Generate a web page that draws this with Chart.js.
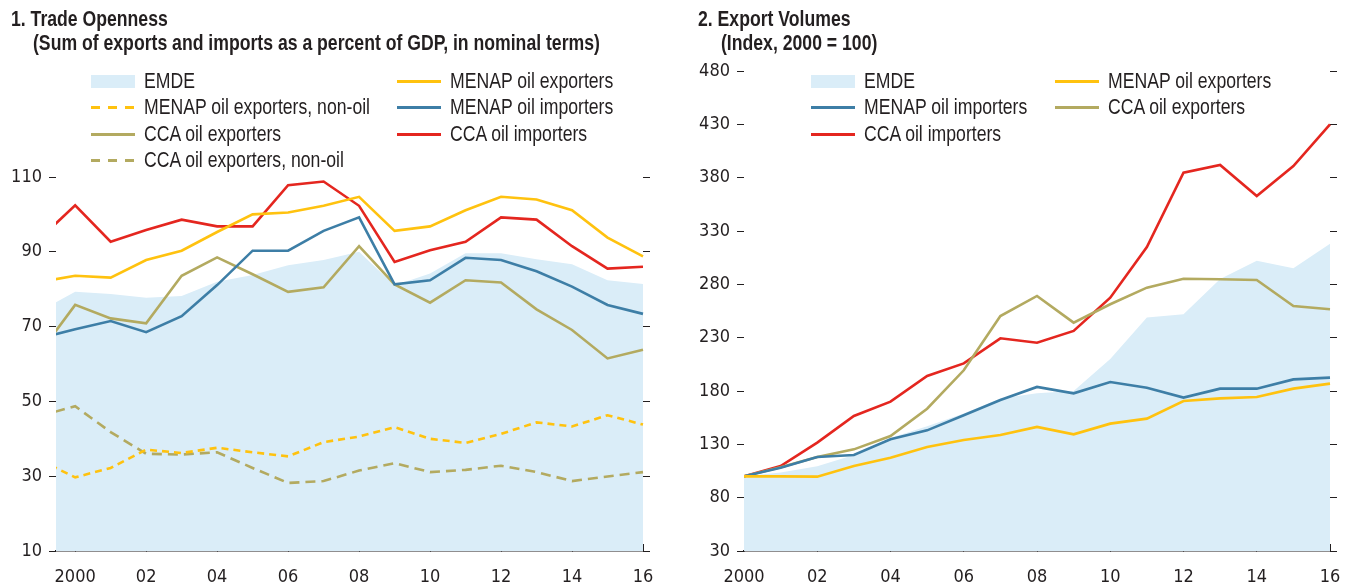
<!DOCTYPE html>
<html>
<head>
<meta charset="utf-8">
<script src="https://cdn.jsdelivr.net/npm/chart.js@4.4.1/dist/chart.umd.min.js"></script>
<style>
  html, body { margin: 0; padding: 0; background: #fff; }
  body { font-family: "Liberation Sans", Arial, sans-serif; color: #231f20; }
  #wrap { position: relative; width: 1354px; height: 586px; overflow: hidden; }
  .panel { position: absolute; top: 0; width: 677px; height: 586px; }
  .panel canvas { position: absolute; left: 0; top: 0; }
  /* narrow face: regular sans squeezed horizontally */
  .narrow { display: inline-block; transform: scaleX(0.82); transform-origin: 0 50%; white-space: nowrap; }
  .ttl { position: absolute; font-weight: bold; font-size: 21.5px; line-height: 24px; }
  .legend { position: absolute; display: grid; grid-auto-rows: 26.5px; font-size: 21.5px; }
  .legend .item { display: flex; align-items: center; white-space: nowrap; }
  .legend .sw { width: 44px; margin-right: 9px; flex: none; }
</style>
</head>
<body>
<div id="wrap">
  <div class="panel" id="p1" style="left:0">
    <canvas id="c1" width="677" height="586"></canvas>
    <div class="ttl narrow" style="left:11px;top:7px">1. Trade Openness</div>
    <div class="ttl narrow" style="left:33px;top:31px">(Sum of exports and imports as a percent of GDP, in nominal terms)</div>
    <div class="legend" id="lg1" style="left:91px;top:68px;grid-template-columns:306px 300px"></div>
  </div>
  <div class="panel" id="p2" style="left:677px">
    <canvas id="c2" width="677" height="586"></canvas>
    <div class="ttl narrow" style="left:21px;top:7px">2. Export Volumes</div>
    <div class="ttl narrow" style="left:44px;top:31px">(Index, 2000 = 100)</div>
    <div class="legend" id="lg2" style="left:134px;top:68px;grid-template-columns:244px 300px"></div>
  </div>
</div>
<script>
// ---- data ----
const yearsOpen = [1999, 2000, 2001, 2002, 2003, 2004, 2005, 2006, 2007, 2008,
                   2009, 2010, 2011, 2012, 2013, 2014, 2015, 2016];
const emdeOpen        = [74.1, 79.3, 78.7, 77.7, 78.2, 82.0, 83.8, 86.4, 87.8, 90.0, 81.0, 84.2, 89.6, 89.6, 88.0, 86.7, 82.4, 81.4];
const menapExpOpen    = [81.9, 83.6, 83.1, 87.8, 90.3, 95.3, 100.0, 100.5, 102.3, 104.7, 95.6, 96.8, 101.1, 104.7, 104.0, 101.1, 93.8, 88.8];
const menapNonOilOpen = [34.3, 29.7, 32.2, 37.1, 36.2, 37.6, 36.4, 35.3, 39.1, 40.6, 43.1, 40.0, 38.9, 41.3, 44.4, 43.3, 46.3, 43.8];
const menapImpOpen    = [66.9, 69.3, 71.5, 68.5, 72.8, 81.1, 90.3, 90.3, 95.6, 99.2, 81.3, 82.4, 88.4, 87.8, 84.8, 80.7, 75.8, 73.4];
const ccaExpOpen      = [63.0, 75.8, 72.2, 70.9, 83.6, 88.5, 84.0, 79.3, 80.5, 91.5, 81.3, 76.4, 82.4, 81.8, 74.6, 69.1, 61.5, 63.8];
const ccaImpOpen      = [93.5, 102.4, 92.7, 95.8, 98.6, 96.8, 96.8, 107.8, 108.8, 102.3, 87.3, 90.4, 92.7, 99.2, 98.6, 91.5, 85.5, 86.0];
const ccaNonOilOpen   = [46.1, 48.7, 41.8, 36.0, 35.8, 36.4, 32.2, 28.2, 28.7, 31.5, 33.5, 31.1, 31.7, 32.8, 31.1, 28.7, 29.9, 31.1];

const yearsVol = [2000, 2001, 2002, 2003, 2004, 2005, 2006, 2007, 2008,
                  2009, 2010, 2011, 2012, 2013, 2014, 2015, 2016];
const emdeVol     = [100, 103.5, 109.5, 120, 136, 147, 159, 173, 178, 180, 210, 249, 252, 285, 302, 295, 318];
const menapExpVol = [100, 100, 99.7, 109.7, 117.5, 127.5, 134.1, 138.8, 146.3, 139.4, 149.4, 154.1, 170.6, 173.1, 174.4, 182.2, 186.9];
const menapImpVol = [100, 108.1, 118.1, 120.0, 134.7, 143.1, 157.2, 171.6, 183.8, 177.8, 188.4, 183.1, 173.8, 182.2, 182.2, 190.9, 192.5];
const ccaExpVol   = [100, 108.5, 118.1, 125.3, 137.8, 163.4, 199.4, 250.3, 269.1, 244.1, 261.3, 276.9, 285.3, 284.7, 284.1, 259.7, 256.6];
const ccaImpVol   = [100, 109.7, 131.6, 156.6, 170.0, 194.1, 205.9, 229.4, 225.3, 236.3, 267.5, 315.0, 384.7, 391.9, 362.8, 390.9, 430.0];

const tickYears = [2000, 2002, 2004, 2006, 2008, 2010, 2012, 2014, 2016];
const openTicks = [10, 30, 50, 70, 90, 110];
const volTicks = [30, 80, 130, 180, 230, 280, 330, 380, 430, 480];

// ---- styles ----
const FONT = '"DejaVu Sans Condensed", "Liberation Sans", sans-serif';
const INK = '#231f20';
const C = {
  emde: '#daedf8',
  yellow: '#ffc20f',
  blue: '#3d7ea6',
  red: '#e4261f',
  olive: '#b3aa60'
};

const pts = (xs, ys) => xs.map((x, i) => ({ x, y: ys[i] }));
const CLIP = { left: 0, top: 5, right: 5, bottom: 0 };

function area(label, xs, ys) {
  return { label, data: pts(xs, ys), kind: 'area', fill: 'start', backgroundColor: C.emde,
           borderWidth: 0, pointRadius: 0, order: 10, clip: CLIP };
}
function line(label, xs, ys, color, dash) {
  return { label, data: pts(xs, ys), kind: 'line', borderColor: color, borderWidth: 2.6,
           borderDash: dash || [], pointRadius: 0, fill: false, tension: 0, clip: CLIP };
}

// y axes carry only small outside tick marks; the right one has no labels
function tickMarkAxis(ticks, min, max, width, showLabels) {
  return {
    min, max,
    position: showLabels ? 'left' : 'right',
    afterBuildTicks: s => { s.ticks = ticks.map(v => ({ value: v })); },
    afterFit: s => { s.width = width; },
    border: { display: false },
    grid: { drawOnChartArea: false, drawTicks: true, tickLength: 7, color: INK, lineWidth: 1 },
    ticks: { display: showLabels, padding: 7, color: INK, font: { family: FONT, size: 18 } }
  };
}

function makeChart(canvas, datasets, xMin, yTicks, yMin, yMax, leftW, pad) {
  return new Chart(canvas, {
    type: 'line',
    data: { datasets },
    options: {
      responsive: false,
      animation: false,
      layout: { padding: pad },
      plugins: { legend: { display: false }, tooltip: { enabled: false } },
      scales: {
        x: {
          type: 'linear', min: xMin, max: 2016,
          afterBuildTicks: s => { s.ticks = tickYears.map(v => ({ value: v })); },
          // keep the label padding from pushing the plot edges inward
          afterFit: s => { s.height = 35; s.paddingLeft = 0; s.paddingRight = 0; },
          border: { display: true, color: INK, width: 1.6 },
          // negative length turns the year marks inward, above the axis line
          grid: { drawOnChartArea: false, drawTicks: true, tickLength: -7, color: INK, lineWidth: 1 },
          ticks: {
            autoSkip: false, maxRotation: 0, padding: 23, color: INK,
            font: { family: FONT, size: 18 },
            callback: v => v === 2000 ? '2000' : String(v % 100).padStart(2, '0')
          }
        },
        y: tickMarkAxis(yTicks, yMin, yMax, leftW, true),
        y2: tickMarkAxis(yTicks, yMin, yMax, 7, false)
      }
    }
  });
}

function buildLegend(el, datasets) {
  el.innerHTML = datasets.map(d => {
    let sw;
    if (d.kind === 'area') {
      sw = `<span class="sw" style="height:13px;background:${d.backgroundColor}"></span>`;
    } else if (d.borderDash.length) {
      sw = `<span class="sw" style="height:3px;background:repeating-linear-gradient(to right, ${d.borderColor} 0 9px, transparent 9px 17px)"></span>`;
    } else {
      sw = `<span class="sw" style="height:3px;background:${d.borderColor}"></span>`;
    }
    return `<div class="item">${sw}<span class="narrow">${d.label}</span></div>`;
  }).join('');
}

// ---- panel 1: trade openness ----
const openSets = [
  area('EMDE', yearsOpen, emdeOpen),
  line('MENAP oil exporters', yearsOpen, menapExpOpen, C.yellow),
  line('MENAP oil exporters, non-oil', yearsOpen, menapNonOilOpen, C.yellow, [7, 5]),
  line('MENAP oil importers', yearsOpen, menapImpOpen, C.blue),
  line('CCA oil exporters', yearsOpen, ccaExpOpen, C.olive),
  line('CCA oil importers', yearsOpen, ccaImpOpen, C.red),
  line('CCA oil exporters, non-oil', yearsOpen, ccaNonOilOpen, C.olive, [10, 6])
];
buildLegend(document.getElementById('lg1'), openSets);
makeChart(document.getElementById('c1'), openSets, 1999.46, openTicks, 10, 110, 56,
          { top: 177, left: 0, right: 27, bottom: 0 });

// ---- panel 2: export volumes ----
const volSets = [
  area('EMDE', yearsVol, emdeVol),
  line('MENAP oil exporters', yearsVol, menapExpVol, C.yellow),
  line('MENAP oil importers', yearsVol, menapImpVol, C.blue),
  line('CCA oil exporters', yearsVol, ccaExpVol, C.olive),
  line('CCA oil importers', yearsVol, ccaImpVol, C.red)
];
buildLegend(document.getElementById('lg2'), volSets);
makeChart(document.getElementById('c2'), volSets, 2000, volTicks, 30, 480, 67,
          { top: 71, left: 0, right: 17, bottom: 0 });
</script>
</body>
</html>
